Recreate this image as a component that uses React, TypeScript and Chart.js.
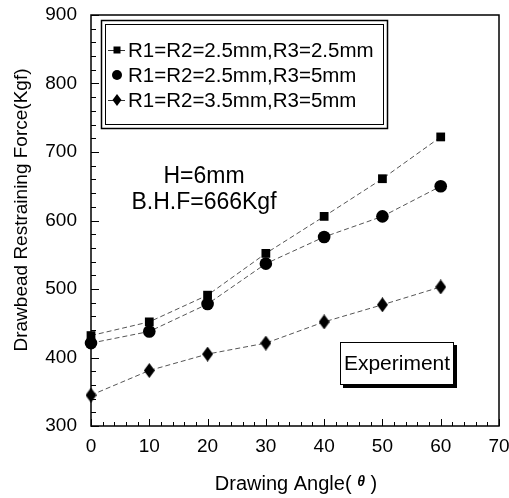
import React, { useEffect, useRef } from 'react';
import { Chart, registerables } from 'chart.js';

Chart.register(...registerables);

const angles = [0, 10, 20, 30, 40, 50, 60];
const seriesA = [432, 452, 491, 552, 606, 661, 722];
const seriesB = [421, 438, 478, 537, 576, 606, 650];
const seriesC = [345, 381, 405, 421, 452, 477, 503];
const seriesLabels = ['R1=R2=2.5mm,R3=2.5mm', 'R1=R2=2.5mm,R3=5mm', 'R1=R2=3.5mm,R3=5mm'];
const annotationLines = ['H=6mm', 'B.H.F=666Kgf'];
const boxLabel = 'Experiment';
const yTitle = 'Drawbead Restraining Force(Kgf)';
const xTitleMain = 'Drawing Angle( ';
const xTitleSymbol = 'θ';
const xTitleEnd = ' )';

const FAM = '"Liberation Sans", Arial, Helvetica, sans-serif';

function makeDiamond(w: number, h: number) {
  const c = document.createElement('canvas');
  c.width = w;
  c.height = h;
  const g = c.getContext('2d')!;
  g.fillStyle = '#000';
  g.beginPath();
  g.moveTo(w / 2, 0);
  g.lineTo(w, h / 2);
  g.lineTo(w / 2, h);
  g.lineTo(0, h / 2);
  g.closePath();
  g.fill();
  return c;
}

function drawMarker(ctx: CanvasRenderingContext2D, kind: number, cx: number, cy: number) {
  ctx.fillStyle = '#000';
  if (kind === 0) {
    ctx.fillRect(cx - 3.5, cy - 3.5, 7, 7);
  } else if (kind === 1) {
    ctx.beginPath();
    ctx.arc(cx, cy, 5, 0, Math.PI * 2);
    ctx.fill();
  } else {
    ctx.beginPath();
    ctx.moveTo(cx, cy - 6);
    ctx.lineTo(cx + 4.5, cy);
    ctx.lineTo(cx, cy + 6);
    ctx.lineTo(cx - 4.5, cy);
    ctx.closePath();
    ctx.fill();
  }
}

const decorPlugin = {
  id: 'decor',
  afterDraw(chart: any) {
    const ctx: CanvasRenderingContext2D = chart.ctx;
    const xs = chart.scales.x;
    const ys = chart.scales.y;
    const a = chart.chartArea;
    ctx.save();
    // frame
    ctx.strokeStyle = '#000';
    ctx.lineWidth = 1.5;
    ctx.strokeRect(a.left, a.top, a.right - a.left, a.bottom - a.top);
    // ticks
    ctx.lineWidth = 1;
    ctx.beginPath();
    for (let v = 0; v <= 70; v += 2) {
      const px = Math.round(xs.getPixelForValue(v)) + 0.5;
      const len = v % 10 === 0 ? 7 : 4;
      ctx.moveTo(px, a.bottom);
      ctx.lineTo(px, a.bottom - len);
    }
    for (let v = 300; v <= 900; v += 20) {
      const py = Math.round(ys.getPixelForValue(v)) + 0.5;
      const len = v % 100 === 0 ? 8 : 5;
      ctx.moveTo(a.left, py);
      ctx.lineTo(a.left + len, py);
    }
    ctx.stroke();

    // legend box
    ctx.fillStyle = '#fff';
    ctx.fillRect(101, 20, 287, 109);
    ctx.lineWidth = 1.5;
    ctx.strokeRect(101.5, 20.5, 286, 108);
    ctx.lineWidth = 1;
    ctx.strokeRect(105.5, 24.5, 278, 100);
    const rows = [50, 75, 100];
    ctx.font = '20.5px ' + FAM;
    ctx.textBaseline = 'middle';
    ctx.textAlign = 'left';
    rows.forEach((ry, i) => {
      if (i !== 1) {
        ctx.strokeStyle = '#333';
        ctx.lineWidth = 1;
        ctx.beginPath();
        ctx.moveTo(108, ry + 0.5);
        ctx.lineTo(125, ry + 0.5);
        ctx.stroke();
      }
      drawMarker(ctx, i, 117, ry);
      ctx.fillStyle = '#000';
      ctx.fillText(seriesLabels[i], 128, ry + 1);
    });

    // annotation
    ctx.font = '23px ' + FAM;
    ctx.textAlign = 'center';
    ctx.fillStyle = '#000';
    ctx.fillText(annotationLines[0], 204, 177);
    ctx.fillText(annotationLines[1], 204, 203);

    // Experiment box with shadow
    ctx.fillStyle = '#000';
    ctx.fillRect(343, 345, 114, 43);
    ctx.fillStyle = '#fff';
    ctx.fillRect(340, 342, 114, 43);
    ctx.strokeStyle = '#000';
    ctx.lineWidth = 1;
    ctx.strokeRect(340.5, 342.5, 113, 42);
    ctx.fillStyle = '#000';
    ctx.font = '21px ' + FAM;
    ctx.fillText(boxLabel, 397, 364);

    // y title
    ctx.save();
    ctx.translate(22, 210);
    ctx.rotate(-Math.PI / 2);
    ctx.font = '19px ' + FAM;
    ctx.textAlign = 'center';
    ctx.fillText(yTitle, 0, 0);
    ctx.restore();

    // x title
    ctx.font = '20px ' + FAM;
    ctx.textAlign = 'left';
    const w1 = ctx.measureText(xTitleMain).width;
    ctx.font = 'italic bold 14px ' + FAM;
    const w2 = ctx.measureText(xTitleSymbol).width;
    ctx.font = '20px ' + FAM;
    const w3 = ctx.measureText(xTitleEnd).width;
    let sx = 296 - (w1 + w2 + w3) / 2;
    ctx.fillText(xTitleMain, sx, 484);
    sx += w1;
    ctx.font = 'italic bold 14px ' + FAM;
    ctx.fillText(xTitleSymbol, sx, 482);
    sx += w2;
    ctx.font = '20px ' + FAM;
    ctx.fillText(xTitleEnd, sx, 484);
    ctx.restore();
  },
};

export default function App() {
  const ref = useRef<HTMLCanvasElement | null>(null);
  useEffect(() => {
    if (!ref.current) return;
    const diamond = makeDiamond(11, 15);
    const toPts = (arr: number[]) => angles.map((x, i) => ({ x, y: arr[i] }));
    const lineStyle = {
      borderColor: '#555',
      borderWidth: 1,
      borderDash: [5, 3],
      pointBackgroundColor: '#000',
      pointBorderColor: '#000',
      pointBorderWidth: 0,
      clip: false as any,
      tension: 0,
    };
    const chart = new Chart(ref.current, {
      type: 'line',
      data: {
        datasets: [
          { ...lineStyle, label: seriesLabels[0], data: toPts(seriesA), pointStyle: 'rect', pointRadius: 6.2 },
          { ...lineStyle, label: seriesLabels[1], data: toPts(seriesB), pointStyle: 'circle', pointRadius: 6.3 },
          { ...lineStyle, label: seriesLabels[2], data: toPts(seriesC), pointStyle: diamond as any, pointRadius: 7 },
        ],
      },
      options: {
        animation: false,
        responsive: false,
        maintainAspectRatio: false,
        layout: { padding: { left: 0, top: 15, right: 10, bottom: 3 } },
        plugins: { legend: { display: false }, tooltip: { enabled: false } },
        scales: {
          x: {
            type: 'linear',
            min: 0,
            max: 70,
            grid: { display: false, drawTicks: false, tickLength: 0 },
            border: { display: false },
            ticks: { stepSize: 10, autoSkip: false, maxRotation: 0, padding: 9, color: '#000', font: { family: FAM, size: 19 } },
            afterFit: (s: any) => { s.height = 69; s.paddingLeft = 0; s.paddingRight = 0; },
          },
          y: {
            min: 300,
            max: 900,
            grid: { display: false, drawTicks: false, tickLength: 0 },
            border: { display: false },
            ticks: { stepSize: 100, autoSkip: false, padding: 14, color: '#000', font: { family: FAM, size: 19 } },
            afterFit: (s: any) => { s.width = 91; s.paddingTop = 0; s.paddingBottom = 0; },
          },
        },
      },
      plugins: [decorPlugin],
    });
    return () => chart.destroy();
  }, []);
  return (
    <div style={{ position: 'fixed', left: 0, top: 0, width: 509, height: 498, background: '#fff' }}>
      <canvas ref={ref} width={509} height={498} style={{ display: 'block' }} />
    </div>
  );
}
